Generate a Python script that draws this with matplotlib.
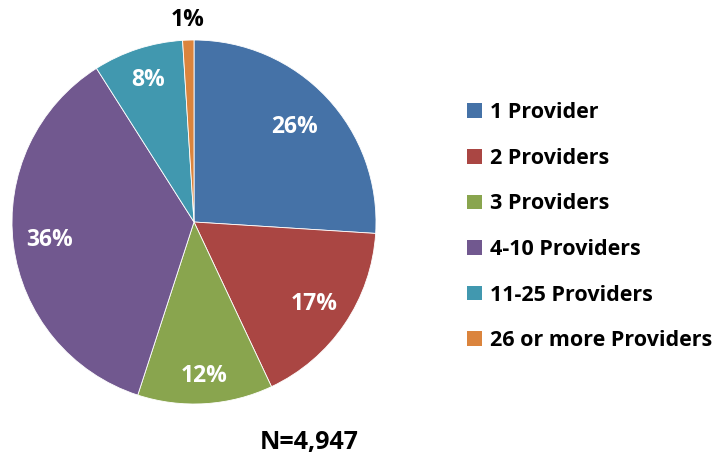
import numpy as np
from matplotlib import pyplot as plt
from matplotlib.patches import Patch

categories = ["1 Provider", "2 Providers", "3 Providers", "4-10 Providers",
              "11-25 Providers", "26 or more Providers"]
shares = [26, 17, 12, 36, 8, 1]
pct_labels = ["26%", "17%", "12%", "36%", "8%", "1%"]
total_n = "N=4,947"

colors = ["#4572A7", "#AA4643", "#89A54E", "#71588F", "#4198AF", "#DB843D"]
label_dist = [0.76, 0.80, 0.85, 0.80, 0.82, 1.11]
label_color = ["white", "white", "white", "white", "white", "black"]

plt.rcParams['font.family'] = ['Open Sans', 'DejaVu Sans']

fig = plt.figure(figsize=(7.24, 4.58), dpi=100)
ax = fig.add_axes([12 / 724, 54 / 458, 364 / 724, 364 / 458])

wedges, _ = ax.pie(shares, colors=colors, startangle=90, counterclock=False,
                   wedgeprops=dict(edgecolor="white", linewidth=0.6))
ax.set_xlim(-1, 1)
ax.set_ylim(-1, 1)

for w, txt, d, c in zip(wedges, pct_labels, label_dist, label_color):
    ang = np.deg2rad((w.theta1 + w.theta2) / 2)
    ax.text(d * np.cos(ang), d * np.sin(ang), txt, ha="center", va="center",
            color=c, fontsize=16.5, fontweight="bold")

handles = [Patch(facecolor=col, edgecolor="none") for col in colors]
fig.legend(handles, categories, loc="upper left", bbox_to_anchor=(448 / 724, 1 - 83 / 458),
           frameon=False, prop=dict(weight="bold", size=15.5),
           handlelength=0.68, handleheight=0.68, handletextpad=0.35, labelspacing=1.14)

fig.text(309 / 724, 1 - 443 / 458, total_n, ha="center", va="center",
         fontsize=18, fontweight="bold")

plt.savefig("out.png", dpi=100)
